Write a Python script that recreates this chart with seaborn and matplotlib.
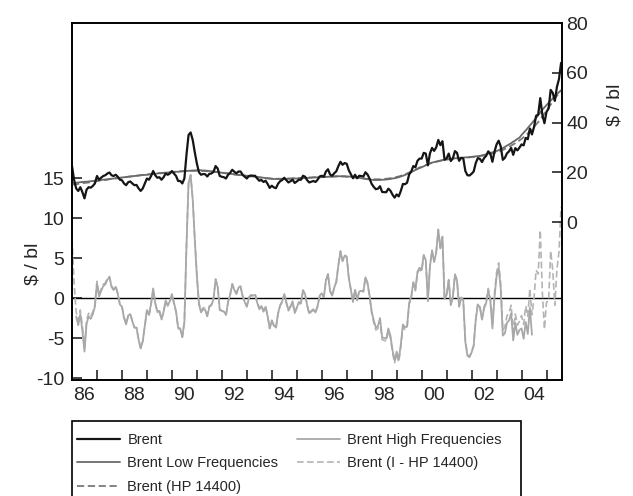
import numpy as np
import pandas as pd
import matplotlib
matplotlib.use("Agg")
import matplotlib.pyplot as plt
import matplotlib.patches as mpatches
import seaborn as sns

# monthly series, Jan 1986 .. Aug 2005 ($ / bl)
start_year = 1986
brent = [
    22.5, 17.0, 13.5, 12.5, 14.0, 12.0, 9.5, 13.0, 14.0, 13.8, 14.5, 15.5,   # 1986
    18.5, 17.0, 17.8, 18.5, 18.8, 19.5, 19.9, 18.8, 18.5, 19.0, 18.2, 17.0,  # 1987
    16.8, 15.5, 14.8, 16.0, 16.3, 15.5, 14.8, 14.9, 13.5, 12.5, 13.5, 15.5,  # 1988
    17.5, 17.0, 18.5, 20.5, 18.8, 17.8, 18.0, 17.0, 18.0, 19.5, 19.0, 19.5,  # 1989
    20.5, 19.5, 18.5, 16.5, 16.5, 15.5, 17.5, 27.0, 35.0, 36.0, 33.0, 28.0,  # 1990
    23.5, 20.0, 19.0, 19.3, 19.2, 18.3, 19.4, 19.5, 20.2, 22.5, 21.5, 18.5,  # 1991
    18.2, 18.0, 17.5, 19.0, 19.8, 21.0, 20.2, 19.6, 20.3, 20.3, 19.0, 18.2,  # 1992
    17.5, 18.5, 18.7, 18.6, 18.6, 17.5, 16.6, 16.9, 16.1, 16.6, 15.3, 13.7,  # 1993
    14.6, 13.9, 13.6, 15.4, 16.4, 16.9, 17.8, 16.8, 15.9, 16.4, 17.0, 15.7,  # 1994
    16.3, 17.0, 17.0, 18.6, 18.2, 16.8, 15.9, 16.2, 16.5, 16.1, 17.0, 18.3,  # 1995
    18.6, 18.2, 20.3, 21.2, 19.1, 18.6, 19.6, 20.4, 22.5, 24.2, 23.0, 23.7,  # 1996
    23.4, 20.8, 19.2, 17.6, 19.0, 17.6, 18.6, 18.5, 18.3, 20.0, 19.1, 17.4,  # 1997
    15.3, 14.1, 13.2, 13.4, 14.4, 12.1, 12.0, 12.0, 13.4, 12.6, 11.0, 9.8,   # 1998
    11.1, 10.3, 12.5, 15.3, 15.2, 15.8, 19.1, 20.3, 22.5, 22.0, 24.6, 25.5,  # 1999
    25.5, 27.8, 27.5, 22.8, 27.6, 29.8, 28.6, 30.0, 33.0, 30.9, 32.5, 25.0,  # 2000
    25.6, 27.5, 24.5, 25.6, 28.5, 27.8, 24.6, 25.8, 25.6, 20.5, 18.8, 18.7,  # 2001
    19.4, 20.3, 23.7, 25.7, 25.4, 24.1, 25.7, 26.6, 28.4, 27.5, 24.2, 28.3,  # 2002
    31.2, 32.7, 30.4, 25.0, 25.8, 27.6, 28.4, 29.8, 27.0, 29.7, 28.8, 29.9,  # 2003
    31.2, 30.8, 33.8, 33.3, 37.6, 35.2, 38.2, 42.7, 43.2, 49.8, 43.1, 39.7,  # 2004
    44.3, 45.6, 53.1, 51.9, 48.7, 54.3, 57.5, 64.0,                          # 2005
]
low_freq = [
    15.6, 15.7, 15.8, 15.9, 16.0, 16.1, 16.2, 16.2, 16.3, 16.4, 16.5, 16.6,
    16.7, 16.8, 16.9, 17.0, 17.1, 17.2, 17.3, 17.4, 17.5, 17.6, 17.7, 17.8,
    17.9, 18.0, 18.1, 18.2, 18.3, 18.4, 18.5, 18.6, 18.7, 18.8, 18.9, 18.9,
    19.0, 19.1, 19.2, 19.3, 19.4, 19.5, 19.6, 19.6, 19.7, 19.8, 19.9, 19.9,
    20.0, 20.1, 20.2, 20.2, 20.3, 20.4, 20.5, 20.5, 20.6, 20.6, 20.7, 20.7,
    20.8, 20.8, 20.8, 20.7, 20.7, 20.6, 20.5, 20.4, 20.3, 20.2, 20.1, 20.0,
    19.8, 19.7, 19.6, 19.5, 19.4, 19.3, 19.2, 19.1, 19.0, 18.9, 18.8, 18.7,
    18.6, 18.5, 18.4, 18.3, 18.2, 18.1, 18.0, 17.9, 17.8, 17.7, 17.6, 17.5,
    17.4, 17.3, 17.3, 17.3, 17.3, 17.3, 17.3, 17.3, 17.4, 17.4, 17.4, 17.5,
    17.5, 17.5, 17.6, 17.6, 17.7, 17.7, 17.8, 17.8, 17.9, 17.9, 18.0, 18.0,
    18.0, 18.1, 18.1, 18.2, 18.2, 18.3, 18.3, 18.4, 18.4, 18.4, 18.4, 18.4,
    18.3, 18.3, 18.2, 18.1, 18.0, 17.9, 17.8, 17.6, 17.5, 17.4, 17.2, 17.1,
    17.0, 16.9, 16.9, 16.9, 16.9, 17.0, 17.0, 17.1, 17.2, 17.3, 17.5, 17.6,
    17.8, 18.0, 18.3, 18.6, 18.9, 19.3, 19.7, 20.1, 20.5, 20.9, 21.3, 21.7,
    22.0, 22.4, 22.8, 23.2, 23.6, 23.9, 24.1, 24.3, 24.5, 24.7, 24.9, 25.1,
    25.2, 25.3, 25.4, 25.5, 25.6, 25.7, 25.7, 25.8, 25.9, 26.0, 26.0, 26.1,
    26.2, 26.3, 26.4, 26.5, 26.6, 26.8, 27.0, 27.2, 27.5, 27.8, 28.0, 28.2,
    28.5, 28.9, 29.3, 29.7, 30.2, 30.7, 31.2, 31.7, 32.3, 32.8, 33.4, 33.9,
    35.0, 35.9, 36.8, 37.8, 38.8, 39.8, 40.8, 41.8, 42.9, 44.0, 45.1, 46.1,
    47.0, 47.9, 48.8, 49.7, 50.6, 51.4, 52.2, 53.0,
]
hp_trend = [
    15.0, 15.1, 15.2, 15.3, 15.5, 15.6, 15.7, 15.8, 15.9, 16.1, 16.2, 16.3,
    16.4, 16.6, 16.7, 16.8, 16.9, 17.0, 17.2, 17.3, 17.4, 17.5, 17.6, 17.7,
    17.8, 17.9, 18.0, 18.2, 18.3, 18.4, 18.5, 18.6, 18.7, 18.8, 18.9, 19.0,
    19.1, 19.2, 19.3, 19.4, 19.5, 19.6, 19.7, 19.7, 19.8, 19.9, 20.0, 20.0,
    20.1, 20.2, 20.2, 20.3, 20.4, 20.4, 20.5, 20.5, 20.6, 20.6, 20.6, 20.6,
    20.6, 20.6, 20.6, 20.5, 20.5, 20.4, 20.4, 20.3, 20.2, 20.1, 20.0, 19.9,
    19.8, 19.7, 19.6, 19.5, 19.3, 19.2, 19.1, 19.0, 18.9, 18.8, 18.7, 18.6,
    18.5, 18.4, 18.3, 18.2, 18.1, 18.0, 17.9, 17.8, 17.7, 17.6, 17.5, 17.5,
    17.4, 17.4, 17.4, 17.4, 17.4, 17.4, 17.4, 17.5, 17.5, 17.5, 17.6, 17.6,
    17.6, 17.7, 17.7, 17.8, 17.8, 17.8, 17.9, 17.9, 18.0, 18.0, 18.0, 18.1,
    18.1, 18.1, 18.2, 18.2, 18.3, 18.3, 18.3, 18.3, 18.3, 18.3, 18.3, 18.3,
    18.2, 18.2, 18.1, 18.0, 17.9, 17.8, 17.7, 17.6, 17.5, 17.4, 17.3, 17.3,
    17.2, 17.2, 17.2, 17.2, 17.2, 17.3, 17.3, 17.4, 17.5, 17.6, 17.8, 17.9,
    18.1, 18.3, 18.6, 18.9, 19.2, 19.5, 19.9, 20.3, 20.7, 21.1, 21.5, 21.9,
    22.2, 22.5, 22.9, 23.2, 23.5, 23.8, 24.0, 24.2, 24.4, 24.6, 24.8, 25.0,
    25.1, 25.2, 25.3, 25.4, 25.5, 25.5, 25.6, 25.7, 25.8, 25.8, 25.9, 26.0,
    26.1, 26.2, 26.3, 26.4, 26.5, 26.6, 26.8, 27.0, 27.2, 27.4, 27.6, 27.8,
    28.0, 28.3, 28.6, 29.0, 29.4, 29.8, 30.2, 30.7, 31.2, 31.7, 32.2, 32.8,
    33.4, 34.1, 34.8, 35.6, 36.4, 37.3, 38.2, 39.2, 40.2, 41.3, 42.4, 43.6,
    44.8, 46.0, 47.2, 48.4, 49.6, 50.7, 51.7, 52.6,
]
year_labels = ['86', '88', '90', '92', '94', '96', '98', '00', '02', '04']
left_ticks = [-10, -5, 0, 5, 10, 15]
right_ticks = [0, 20, 40, 60, 80]

FONTSIZE = 14

df = pd.DataFrame({'brent': brent, 'lf': low_freq, 'hp': hp_trend})
df['t'] = start_year + np.arange(len(df)) / 12.0
df['high_freq'] = df['brent'] - df['lf']
df['i_hp'] = df['brent'] - df['hp']
# band-pass component is lost at the edges of the filter window
df.loc[(df['t'] < 1986.1) | (df['t'] > 2004.45), 'high_freq'] = np.nan

sns.set_style("ticks")
plt.rcParams['font.family'] = ['Liberation Sans', 'DejaVu Sans']

fig = plt.figure(figsize=(6.33, 4.96), dpi=100)
ax = fig.add_axes([72 / 633, 1 - 380 / 496, 490 / 633, 357 / 496])
ax2 = ax.twinx()

# lower panel (left axis): cyclical components
ax.axhline(0, color='black', linewidth=1.0, zorder=1)
sns.lineplot(data=df, x='t', y='i_hp', ax=ax, color='#b4b4b4', linewidth=1.2,
             linestyle=(0, (4, 2)), estimator=None, label='Brent (I - HP 14400)', legend=False)
sns.lineplot(data=df, x='t', y='high_freq', ax=ax, color='#a8a8a8', linewidth=1.3,
             estimator=None, label='Brent High Frequencies', legend=False)

# upper panel (right axis): price and trends
sns.lineplot(data=df, x='t', y='hp', ax=ax2, color='#7a7a7a', linewidth=1.3,
             linestyle=(0, (4, 2)), estimator=None, label='Brent (HP 14400)', legend=False)
sns.lineplot(data=df, x='t', y='lf', ax=ax2, color='#6a6a6a', linewidth=1.3,
             estimator=None, label='Brent Low Frequencies', legend=False)
sns.lineplot(data=df, x='t', y='brent', ax=ax2, color='#151515', linewidth=1.6,
             estimator=None, label='Brent', legend=False)

ax.set_xlim(1986.0, 2005.62)
ax.set_ylim(-10.25, 34.4)
ax2.set_ylim(-63.5, 80)

ax.set_xticks(np.arange(1987, 2006))
ax.set_xticklabels([])
ax.set_xticks(np.arange(1986.5, 2005, 2), minor=True)
ax.set_xticklabels(year_labels, minor=True, fontsize=FONTSIZE)
ax.tick_params(axis='x', which='major', direction='in', length=7, width=1.2, top=False)
ax.tick_params(axis='x', which='minor', length=0, pad=5)

ax.set_yticks(left_ticks)
ax.set_yticklabels([str(v) for v in left_ticks], fontsize=FONTSIZE)
ax.tick_params(axis='y', direction='in', length=7, width=1.2, pad=5.5, right=False)
ax2.set_yticks(right_ticks)
ax2.set_yticklabels([str(v) for v in right_ticks], fontsize=FONTSIZE)
ax2.tick_params(axis='y', direction='in', length=7, width=1.2, pad=3)

ax.set_xlabel("")
ax.set_ylabel("$ / bl", fontsize=FONTSIZE)
ax.yaxis.set_label_coords(-0.062, 0.325)
ax2.set_ylabel("$ / bl", fontsize=FONTSIZE)
ax2.yaxis.set_label_coords(1.09, 0.77)

for a in (ax, ax2):
    for s in a.spines.values():
        s.set_linewidth(1.2)
        s.set_color('black')

handles = {}
for a in (ax, ax2):
    for line in a.get_lines():
        lab = line.get_label()
        if not lab.startswith('_'):
            handles[lab] = line
order = ['Brent', 'Brent Low Frequencies', 'Brent (HP 14400)',
         'Brent High Frequencies', 'Brent (I - HP 14400)']
fig.legend([handles[k] for k in order], order, ncols=2, fontsize=10.5,
           loc='upper left', bbox_to_anchor=(77 / 633, 1 - 433 / 496),
           frameon=False, borderpad=0, borderaxespad=0,
           handlelength=2.95, handletextpad=0.5, labelspacing=0.64, columnspacing=1.25)
# legend box runs past the lower edge of the figure
fig.add_artist(mpatches.Rectangle((72 / 633, -0.05), 449 / 633, 0.05 + 1 - 421 / 496,
                                  transform=fig.transFigure, fill=False,
                                  edgecolor='black', linewidth=1.2))

fig.savefig("out.png", dpi=100)
plt.close()
